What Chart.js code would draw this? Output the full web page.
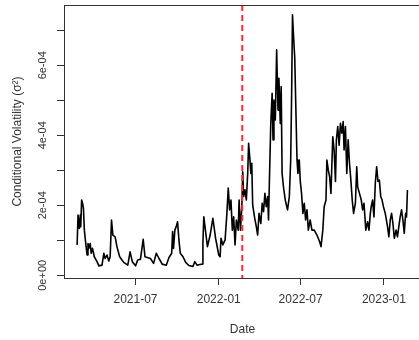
<!DOCTYPE html>
<html lang="en">
<head>
<meta charset="UTF-8">
<title>Conditional Volatility</title>
<style>
    html, body {
        margin: 0;
        padding: 0;
        background: #fff;
        overflow: hidden;
    }

    #wrap {
        width: 423px;
        height: 340px;
        position: relative;
    }
</style>
</head>
<body>
<div id="wrap"><canvas id="vol_chart"></canvas></div>

<script src="https://cdn.jsdelivr.net/npm/chart.js@4/dist/chart.umd.min.js"></script>
<script>
    // conditional variance series
    const dates = [
        "2021-02-22", "2021-02-24", "2021-02-27", "2021-03-01", "2021-03-02", "2021-03-04", "2021-03-06", "2021-03-08",
        "2021-03-10", "2021-03-13", "2021-03-16", "2021-03-18", "2021-03-20", "2021-03-23", "2021-03-25", "2021-03-28",
        "2021-04-01", "2021-04-07", "2021-04-11", "2021-04-18", "2021-04-22", "2021-04-25", "2021-04-29", "2021-05-03",
        "2021-05-06", "2021-05-09", "2021-05-12", "2021-05-17", "2021-05-21", "2021-05-27", "2021-06-05", "2021-06-14",
        "2021-06-19", "2021-06-24", "2021-07-01", "2021-07-06", "2021-07-12", "2021-07-18", "2021-07-22", "2021-07-27",
        "2021-08-03", "2021-08-10", "2021-08-16", "2021-08-22", "2021-08-29", "2021-09-07", "2021-09-13", "2021-09-19",
        "2021-09-21", "2021-09-23", "2021-09-26", "2021-09-29", "2021-10-02", "2021-10-05", "2021-10-08", "2021-10-14",
        "2021-10-20", "2021-10-27", "2021-11-05", "2021-11-09", "2021-11-14", "2021-11-20", "2021-11-26", "2021-11-27",
        "2021-11-29", "2021-12-07", "2021-12-13", "2021-12-19", "2021-12-25", "2022-01-01", "2022-01-04", "2022-01-06",
        "2022-01-10", "2022-01-15", "2022-01-19", "2022-01-22", "2022-01-25", "2022-01-28", "2022-01-31", "2022-02-03",
        "2022-02-06", "2022-02-09", "2022-02-13", "2022-02-15", "2022-02-18", "2022-02-21", "2022-02-23", "2022-02-25",
        "2022-02-28", "2022-03-03", "2022-03-06", "2022-03-08", "2022-03-11", "2022-03-13", "2022-03-15", "2022-03-17",
        "2022-03-21", "2022-03-25", "2022-03-28", "2022-03-31", "2022-04-04", "2022-04-07", "2022-04-10", "2022-04-13",
        "2022-04-16", "2022-04-19", "2022-04-21", "2022-04-23", "2022-04-26", "2022-04-29", "2022-05-01", "2022-05-03",
        "2022-05-06", "2022-05-09", "2022-05-12", "2022-05-14", "2022-05-17", "2022-05-19", "2022-05-21", "2022-05-24",
        "2022-05-28", "2022-06-02", "2022-06-06", "2022-06-09", "2022-06-11", "2022-06-13", "2022-06-15", "2022-06-18",
        "2022-06-20", "2022-06-23", "2022-06-25", "2022-06-28", "2022-06-30", "2022-07-03", "2022-07-06", "2022-07-09",
        "2022-07-12", "2022-07-15", "2022-07-18", "2022-07-22", "2022-07-26", "2022-07-31", "2022-08-06", "2022-08-12",
        "2022-08-15", "2022-08-19", "2022-08-22", "2022-08-26", "2022-08-28", "2022-08-31", "2022-09-03", "2022-09-06",
        "2022-09-10", "2022-09-13", "2022-09-16", "2022-09-18", "2022-09-21", "2022-09-24", "2022-09-27", "2022-09-30",
        "2022-10-03", "2022-10-05", "2022-10-08", "2022-10-11", "2022-10-14", "2022-10-17", "2022-10-20", "2022-10-23",
        "2022-10-26", "2022-10-30", "2022-11-02", "2022-11-04", "2022-11-08", "2022-11-12", "2022-11-15", "2022-11-18",
        "2022-11-22", "2022-11-26", "2022-11-29", "2022-12-02", "2022-12-04", "2022-12-07", "2022-12-10", "2022-12-13",
        "2022-12-16", "2022-12-19", "2022-12-22", "2022-12-25", "2022-12-28", "2022-12-31", "2023-01-04", "2023-01-09",
        "2023-01-12", "2023-01-15", "2023-01-18", "2023-01-21", "2023-01-24", "2023-01-28", "2023-01-31", "2023-02-03",
        "2023-02-06", "2023-02-09", "2023-02-12", "2023-02-15", "2023-02-18", "2023-02-20", "2023-02-22"
    ];

    const volatility = [
        0.87e-4, 1.72e-4, 1.34e-4, 1.72e-4, 1.39e-4, 2.15e-4, 2.06e-4, 1.91e-4,
        1.29e-4, 0.91e-4, 0.58e-4, 0.91e-4, 0.77e-4, 0.91e-4, 0.63e-4, 0.77e-4,
        0.53e-4, 0.39e-4, 0.27e-4, 0.29e-4, 0.63e-4, 0.48e-4, 0.58e-4, 0.41e-4,
        0.53e-4, 1.58e-4, 1.15e-4, 1.10e-4, 0.82e-4, 0.53e-4, 0.37e-4, 0.29e-4,
        0.67e-4, 0.39e-4, 0.27e-4, 0.44e-4, 0.46e-4, 1.03e-4, 0.53e-4, 0.51e-4,
        0.48e-4, 0.34e-4, 0.63e-4, 0.48e-4, 0.32e-4, 0.29e-4, 0.51e-4, 0.63e-4,
        1.25e-4, 0.77e-4, 1.29e-4, 1.39e-4, 1.53e-4, 1.01e-4, 0.63e-4, 0.53e-4,
        0.37e-4, 0.28e-4, 0.25e-4, 0.39e-4, 0.29e-4, 0.31e-4, 0.32e-4, 0.93e-4,
        1.67e-4, 0.82e-4, 1.15e-4, 1.63e-4, 1.06e-4, 0.58e-4, 0.53e-4, 1.06e-4,
        0.87e-4, 1.01e-4, 1.77e-4, 2.49e-4, 1.87e-4, 2.15e-4, 1.29e-4, 1.67e-4,
        0.87e-4, 1.58e-4, 1.29e-4, 2.15e-4, 1.29e-4, 1.96e-4, 2.96e-4, 2.25e-4,
        2.44e-4, 2.15e-4, 2.91e-4, 3.77e-4, 3.29e-4, 2.91e-4, 3.20e-4, 2.01e-4,
        1.67e-4, 1.39e-4, 1.15e-4, 1.77e-4, 1.48e-4, 2.06e-4, 1.82e-4, 2.34e-4,
        1.96e-4, 2.25e-4, 1.58e-4, 2.72e-4, 4.34e-4, 5.20e-4, 3.87e-4, 5.01e-4,
        4.44e-4, 6.44e-4, 4.72e-4, 5.63e-4, 4.34e-4, 5.39e-4, 2.91e-4, 2.53e-4,
        2.15e-4, 1.87e-4, 2.25e-4, 3.29e-4, 5.10e-4, 7.44e-4, 6.91e-4, 6.20e-4,
        5.01e-4, 3.29e-4, 2.91e-4, 3.29e-4, 2.72e-4, 2.34e-4, 1.77e-4, 2.06e-4,
        1.58e-4, 1.87e-4, 1.29e-4, 1.58e-4, 1.29e-4, 1.29e-4, 1.15e-4, 0.96e-4,
        0.82e-4, 1.29e-4, 1.96e-4, 2.15e-4, 3.29e-4, 3.01e-4, 2.82e-4, 2.34e-4,
        3.96e-4, 3.58e-4, 2.68e-4, 3.87e-4, 4.25e-4, 3.72e-4, 4.34e-4, 4.06e-4,
        4.39e-4, 3.58e-4, 4.25e-4, 2.91e-4, 3.87e-4, 3.20e-4, 2.72e-4, 2.15e-4,
        1.77e-4, 2.06e-4, 3.10e-4, 2.53e-4, 2.34e-4, 2.15e-4, 1.87e-4, 2.06e-4,
        1.29e-4, 1.53e-4, 1.29e-4, 1.77e-4, 1.96e-4, 2.15e-4, 1.67e-4, 2.63e-4,
        3.10e-4, 2.68e-4, 2.72e-4, 2.25e-4, 2.15e-4, 1.96e-4, 1.77e-4, 1.39e-4,
        1.10e-4, 1.58e-4, 1.77e-4, 1.48e-4, 1.06e-4, 1.29e-4, 1.10e-4, 1.39e-4,
        1.67e-4, 1.87e-4, 1.58e-4, 1.20e-4, 1.77e-4, 1.67e-4, 2.44e-4
    ];

    const xTickDates = ["2021-07-01", "2022-01-01", "2022-07-01", "2023-01-01"];
    const xRange = ["2021-01-24", "2023-03-24"];
    const yTicks = [0, 1e-4, 2e-4, 3e-4, 4e-4, 5e-4, 6e-4, 7e-4];
    const yLabelTicks = [0, 2e-4, 4e-4, 6e-4];
    const yRange = [-0.077e-4, 7.723e-4];
    const eventDate = "2022-02-22";

    const FONT = '"Liberation Sans", Arial, sans-serif';
    const INK = "#333";

    function ts(s) {
        return Date.parse(s + "T00:00:00Z");
    }

    function fmt_month(v) {
        const d = new Date(v);
        return d.getUTCFullYear() + "-" + String(d.getUTCMonth() + 1).padStart(2, "0");
    }

    // R style scientific labels: 0e+00, 2e-04 ...
    function fmt_sci(v) {
        if (v === 0) return "0e+00";
        const e = Math.floor(Math.log10(Math.abs(v)) + 1e-9);
        const m = Math.round(v / Math.pow(10, e));
        return m + "e" + (e < 0 ? "-" : "+") + String(Math.abs(e)).padStart(2, "0");
    }

    // box, dashed event marker and rotated y labels
    const base_plot = {
        id: "base_plot",
        afterDatasetsDraw(chart) {
            const { ctx, chartArea: a, scales: { x, y } } = chart;
            ctx.save();

            const ex = x.getPixelForValue(ts(eventDate));
            ctx.strokeStyle = "#ff2a2a";
            ctx.lineWidth = 2;
            ctx.setLineDash([6, 4]);
            ctx.beginPath();
            ctx.moveTo(ex, a.top);
            ctx.lineTo(ex, a.bottom);
            ctx.stroke();
            ctx.setLineDash([]);

            ctx.strokeStyle = INK;
            ctx.lineWidth = 1;
            ctx.strokeRect(Math.round(a.left) + 0.5, Math.round(a.top) + 0.5,
                Math.round(a.right - a.left), Math.round(a.bottom - a.top));

            ctx.fillStyle = INK;
            ctx.font = "11px " + FONT;
            ctx.textAlign = "center";
            ctx.textBaseline = "middle";
            for (const v of yLabelTicks) {
                ctx.save();
                ctx.translate(43, y.getPixelForValue(v));
                ctx.rotate(-Math.PI / 2);
                ctx.fillText(fmt_sci(v), 0, 0);
                ctx.restore();
            }
            ctx.restore();
        }
    };

    Chart.defaults.font.family = FONT;
    Chart.defaults.color = INK;

    new Chart(document.getElementById("vol_chart"), {
        type: "line",
        data: {
            datasets: [{
                data: dates.map((d, i) => ({ x: ts(d), y: volatility[i] })),
                borderColor: "#000",
                borderWidth: 1.6,
                borderJoinStyle: "round",
                pointRadius: 0,
                tension: 0,
                fill: false
            }]
        },
        options: {
            responsive: true,
            maintainAspectRatio: false,
            animation: false,
            layout: { padding: { top: 5, right: 2, left: 0, bottom: 0 } },
            plugins: {
                legend: { display: false },
                tooltip: { enabled: false }
            },
            scales: {
                x: {
                    type: "linear",
                    min: ts(xRange[0]),
                    max: ts(xRange[1]),
                    afterBuildTicks: s => { s.ticks = xTickDates.map(d => ({ value: ts(d) })); },
                    afterFit: s => { s.height = 62; },
                    ticks: {
                        callback: v => fmt_month(v),
                        font: { size: 12 },
                        color: INK,
                        padding: 7,
                        maxRotation: 0,
                        autoSkip: false
                    },
                    grid: { drawOnChartArea: false, tickLength: 7, color: INK },
                    border: { display: false },
                    title: {
                        display: true,
                        text: "Date",
                        font: { size: 12 },
                        color: INK,
                        padding: { top: 0, bottom: 3 }
                    }
                },
                y: {
                    min: yRange[0],
                    max: yRange[1],
                    afterBuildTicks: s => { s.ticks = yTicks.map(v => ({ value: v })); },
                    afterFit: s => { s.width = 64; },
                    ticks: { display: false },
                    grid: { drawOnChartArea: false, tickLength: 7, color: INK },
                    border: { display: false },
                    title: {
                        display: true,
                        text: "Conditional Volatility (σ²)",
                        font: { size: 12 },
                        color: INK,
                        padding: { top: 10, bottom: 0 }
                    }
                }
            }
        },
        plugins: [base_plot]
    });
</script>
</body>
</html>
